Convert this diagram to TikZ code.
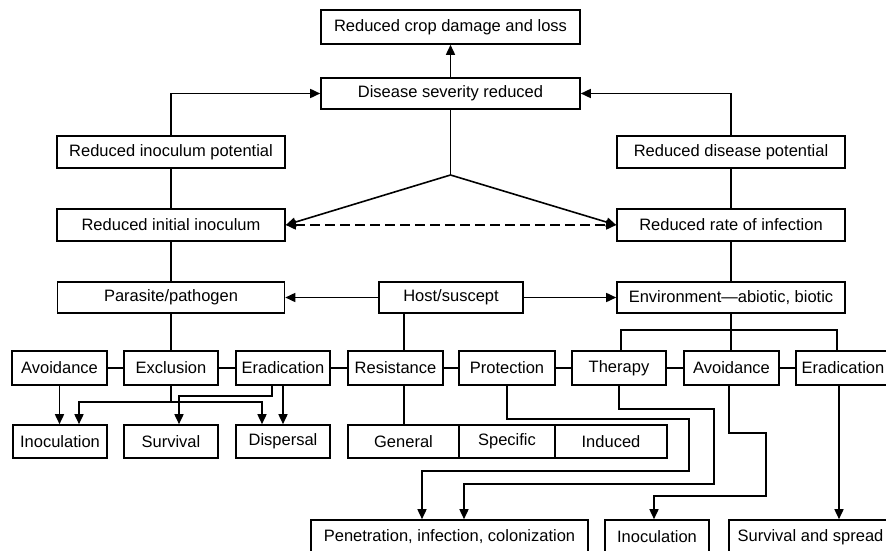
\documentclass[tikz,border=0pt]{standalone}
\usepackage{fontspec}
\setmainfont{Liberation Sans}
\usetikzlibrary{arrows.meta}
\tikzset{
  sz/.style 2 args={minimum width=#1pt,minimum height=#2pt},
  box/.style={draw,line width=1.6pt,inner sep=0pt,fill=white,font=\fontsize{16.5}{19}\selectfont},
  arr/.style={-{Triangle[length=10pt,width=9pt]}},
  arrboth/.style={{Triangle[length=10pt,width=9pt]}-{Triangle[length=10pt,width=9pt]}},
  dashline/.style={dash pattern=on 10pt off 5pt}
}
\begin{document}
\begin{tikzpicture}[x=1pt,y=-1pt,line width=1.6pt]
\useasboundingbox (0,0) rectangle (886,551);
% top levels
\node[box,sz={259}{34}] (top) at (450.5,27) {Reduced crop damage and loss};
\node[box,sz={259}{31}] (sev) at (450.5,93.5) {Disease severity reduced};
\node[box,sz={228}{32}] (rip) at (171,152) {Reduced inoculum potential};
\node[box,sz={228}{32}] (rdp) at (731,152) {Reduced disease potential};
\node[box,sz={228}{32}] (rii) at (171,225) {Reduced initial inoculum};
\node[box,sz={228}{32}] (rri) at (731,225) {Reduced rate of infection};
\node[box,sz={227}{31}] (par) at (171,297.5) {Parasite/pathogen};
\node[box,sz={144}{31}] (host) at (451,297.5) {Host/suscept};
\node[box,sz={228}{31}] (env) at (731,297.5) {Environment—abiotic, biotic};
% row 2
\node[box,sz={95}{34}] (av1) at (59.5,368) {Avoidance};
\node[box,sz={94}{34}] (exc) at (171,368) {Exclusion};
\node[box,sz={94}{34}] (era1) at (283,368) {Eradication};
\node[box,sz={95}{34}] (res) at (395.5,368) {Resistance};
\node[box,sz={96}{34}] (pro) at (507,368) {Protection};
\node[box,sz={94}{34}] (the) at (619,368) {Therapy};
\node[box,sz={95}{34}] (av2) at (731.5,368) {Avoidance};
\node[box,sz={94}{34}] (era2) at (843,368) {Eradication};
% row 3
\node[box,sz={94}{33}] (ino1) at (60,441.5) {Inoculation};
\node[box,sz={94}{33}] (sur) at (171,441.5) {Survival};
\node[box,sz={94}{33}] (dis) at (283,441.5) {Dispersal};
\node[box,sz={111}{33}] (gen) at (403.5,441.5) {General};
\node[box,sz={96}{33}] (spe) at (507,441.5) {Specific};
\node[box,sz={112}{33}] (ind) at (611,441.5) {Induced};
% row 4
\node[box,sz={277}{34}] (pen) at (449.5,537) {Penetration, infection, colonization};
\node[box,sz={104}{34}] (ino2) at (657,537) {Inoculation};
\node[box,sz={163}{34}] (ss) at (810.5,537) {Survival and spread};
% upper connectors
\draw[arr] (sev) -- (top);
\draw[arr] (rip.north) |- (sev.west);
\draw[arr] (rdp.north) |- (sev.east);
\draw (rip) -- (rii);
\draw (rdp) -- (rri);
\draw (rii) -- (par);
\draw (rri) -- (env);
\coordinate (fork) at (450.5,175);
\draw (sev.south) -- (fork);
\draw[arr] (fork) -- (rii.east);
\draw[arr] (fork) -- (rri.west);
\draw[arrboth,dashline] (rii.east) -- (rri.west);
\draw[arr] (host) -- (par);
\draw[arr] (host) -- (env);
% to row 2
\draw (par) -- (exc);
\draw ([xshift=-47pt]host.south) -- ([xshift=-47pt]host.south |- res.north);
\coordinate (ej) at (731,330);
\draw (env.south) -- (env.south |- av2.north);
\draw ([xshift=2pt]the.north) |- (ej) -| ([xshift=-6pt]era2.north);
\foreach \a/\b in {av1/exc,exc/era1,era1/res,res/pro,pro/the,the/av2,av2/era2}
  \draw (\a) -- (\b);
% left lower arrows
\draw[arr] (av1.south) -- (av1.south |- ino1.north);
\draw[arr] (exc.south) -- ++(0,16) -| ([xshift=19pt]ino1.north);
\draw[arr] (exc.south) ++(0,16) -| ([xshift=-21pt]dis.north);
\draw[arr] ([xshift=-11pt]era1.south) -- ++(0,10) -| ([xshift=8pt]sur.north);
\draw[arr] (era1.south) -- (dis.north);
\draw ([xshift=8.5pt]res.south) -- ([xshift=8.5pt]res.south |- gen.north);
% right lower arrows
\draw[arr] (pro.south) -- ++(0,33) -| ++(182,52) -| ([xshift=-27.5pt]pen.north);
\draw[arr] (the.south) -- ++(0,23) -| ++(95,75) -| ([xshift=14.5pt]pen.north);
\draw[arr] ([xshift=-2.5pt]av2.south) -- ++(0,47) -| ++(37,63) -| ([xshift=-3pt]ino2.north);
\draw[arr] ([xshift=-4pt]era2.south) -- ([xshift=-4pt]era2.south |- ss.north);
\end{tikzpicture}
\end{document}
